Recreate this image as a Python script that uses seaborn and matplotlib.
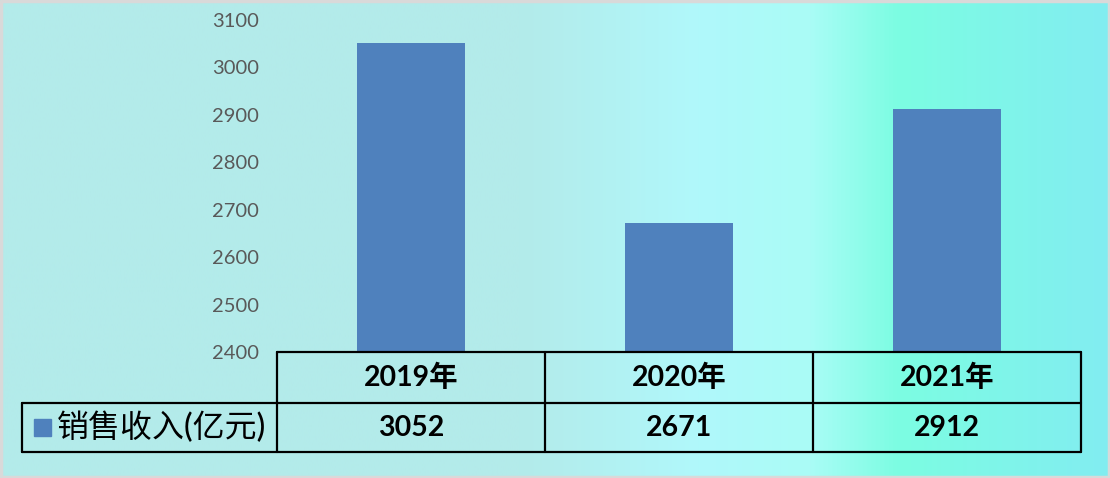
import numpy as np
import pandas as pd
import seaborn as sns
import matplotlib.pyplot as plt
from matplotlib.colors import LinearSegmentedColormap

years = ['2019年', '2020年', '2021年']
sales = [3052, 2671, 2912]
series_name = '销售收入(亿元)'
yticks = [2400, 2500, 2600, 2700, 2800, 2900, 3000, 3100]

sns.set_theme(style='white')
plt.rcParams['font.family'] = ['Lato', 'Noto Sans CJK SC', 'DejaVu Sans']

W, H = 1110, 478
fig = plt.figure(figsize=(W / 100, H / 100), dpi=100)

# background gradient (Excel style fill)
bg = fig.add_axes([0, 0, 1, 1])
stops = [(0.0, '#b3ebea'), (0.47, '#b3ebea'), (0.63, '#b0f8fb'),
         (0.73, '#aafcf6'), (0.81, '#7cfde2'), (1.0, '#82edf1')]
cmap = LinearSegmentedColormap.from_list('bgfill', stops)
bg.imshow(np.linspace(0, 1, 512)[None, :], aspect='auto', cmap=cmap,
          extent=[0, 1, 0, 1])
bg.set_xlim(0, 1)
bg.set_ylim(0, 1)
bg.axis('off')
# thin grey frame
bg.plot([0.001, 0.999, 0.999, 0.001, 0.001], [0.002, 0.002, 0.997, 0.997, 0.002],
        color='#d9d9d9', lw=2.5, transform=bg.transAxes)

# plot area in pixel terms
x0, x1 = 277, 1081
y_top, y_bot = 20, 352
ax = fig.add_axes([x0 / W, 1 - y_bot / H, (x1 - x0) / W, (y_bot - y_top) / H])
ax.patch.set_alpha(0)

df = pd.DataFrame({'year': years, 'sales': sales})
sns.barplot(data=df, x='year', y='sales', color='#4f81bd', saturation=1,
            width=0.4, linewidth=0, ax=ax)
ax.set_ylim(2400, 3100)
ax.set_xlim(-0.5, 2.5)
ax.set_yticks(yticks)
ax.set_yticklabels([str(t) for t in yticks], color='#595959', fontsize=14.5)
ax.tick_params(axis='y', length=0, pad=13)
ax.set_xticks([])
ax.set(xlabel='', ylabel='')
for s in ax.spines.values():
    s.set_visible(False)

# data table below the plot
row_h = 50 / (y_bot - y_top)
ny = [0, -row_h * 1.02, -row_h * 2.0]
trans = ax.get_xaxis_transform()
lw = 1.6
# horizontal lines
ax.plot([-0.5, 2.5], [ny[0], ny[0]], color='black', lw=lw, transform=trans, clip_on=False)
left_x = -0.5 - (x0 - 22) / ((x1 - x0) / 3)
ax.plot([left_x, 2.5], [ny[1], ny[1]], color='black', lw=lw, transform=trans, clip_on=False)
ax.plot([left_x, 2.5], [ny[2], ny[2]], color='black', lw=lw, transform=trans, clip_on=False)
# vertical lines
for xv in [-0.5, 0.5, 1.5, 2.5]:
    ax.plot([xv, xv], [ny[0], ny[2]], color='black', lw=lw, transform=trans, clip_on=False)
ax.plot([left_x, left_x], [ny[1], ny[2]], color='black', lw=lw, transform=trans, clip_on=False)

for i, (yr, v) in enumerate(zip(years, sales)):
    ax.text(i, (ny[0] + ny[1]) / 2, yr, ha='center', va='center', fontsize=20.5,
            fontweight='bold', transform=trans, clip_on=False, color='black')
    ax.text(i, (ny[1] + ny[2]) / 2, str(v), ha='center', va='center', fontsize=20.5,
            fontweight='bold', transform=trans, clip_on=False, color='black')

# legend key + series name
fig.patches.append(plt.Rectangle((34 / W, 1 - 436 / H), 17 / W, 17 / H,
                                 transform=fig.transFigure, color='#4f81bd'))
fig.text(57 / W, 1 - 427 / H, series_name, ha='left', va='center', fontsize=23,
         fontweight='medium', color='black')

fig.savefig('out.png', dpi=100)
